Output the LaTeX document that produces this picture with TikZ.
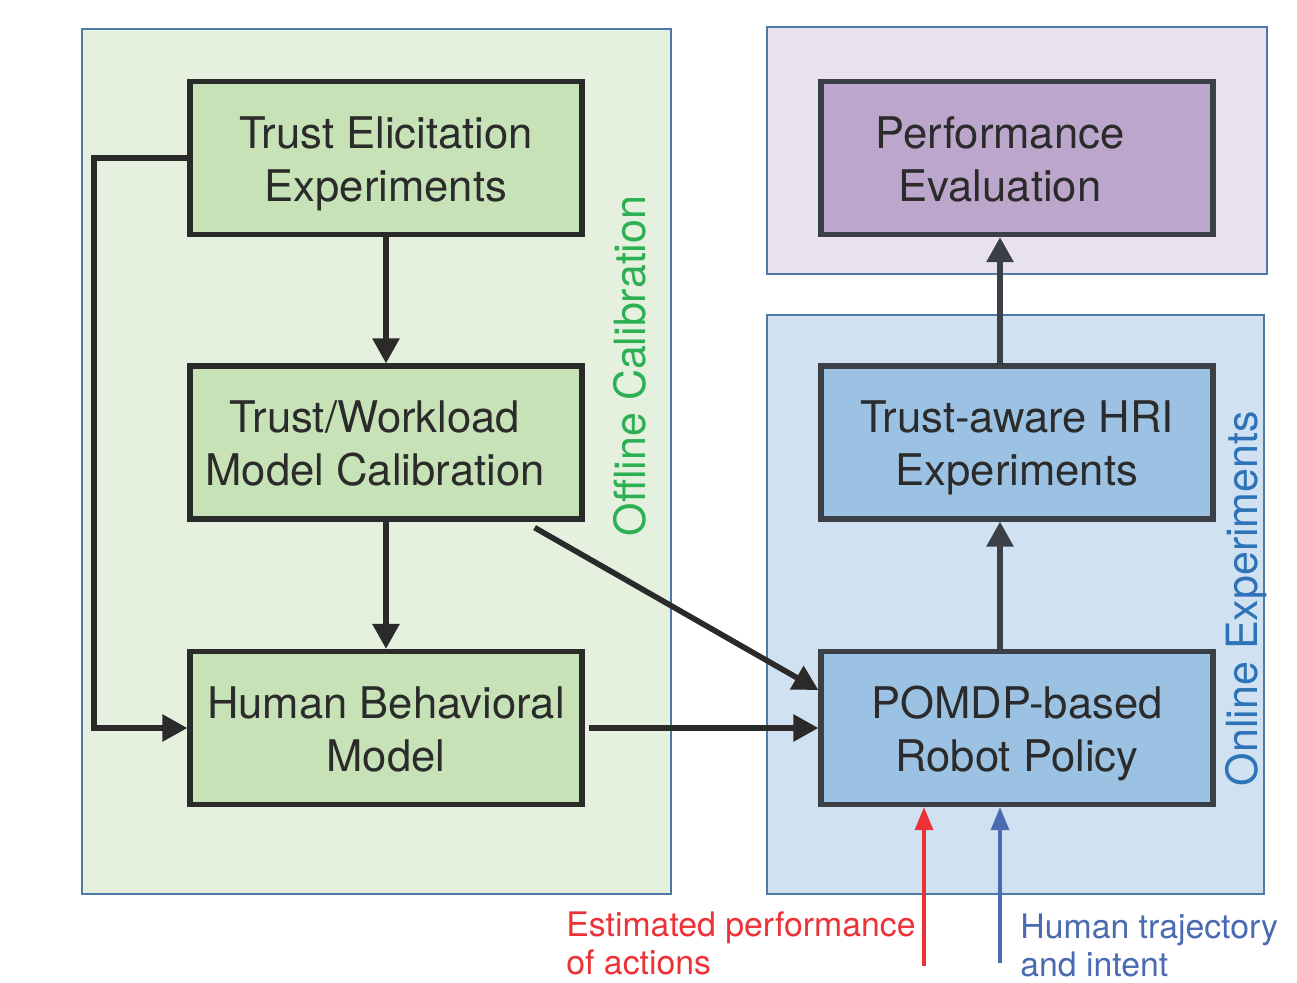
\documentclass[tikz,border=0pt]{standalone}
\usepackage{fontspec}
\setmainfont{TeX Gyre Heros}
\usetikzlibrary{arrows.meta}

\definecolor{offfill}{HTML}{E5F0DE}
\definecolor{evalfill}{HTML}{E8E2EF}
\definecolor{onfill}{HTML}{D0E1F1}
\definecolor{framecol}{HTML}{4E7AA5}
\definecolor{greenbox}{HTML}{C8E2B7}
\definecolor{purplebox}{HTML}{BCA6CC}
\definecolor{bluebox}{HTML}{9CC2E3}
\definecolor{inkdark}{HTML}{2A2A2A}
\definecolor{inkblue}{HTML}{3A4046}
\definecolor{textdark}{HTML}{2B2B2B}
\definecolor{offgreen}{HTML}{2CB053}
\definecolor{onblue}{HTML}{2E73B8}
\definecolor{estred}{HTML}{ED3237}
\definecolor{trajblue}{HTML}{4A6AB2}

% two-line box caption, set a little low, optionally pushed left by half of #1
\newcommand\stagetext[2][0pt]{\raisebox{-3pt}[\height][\depth]{\begin{tabular}{@{}c@{}}#2\end{tabular}}\hspace*{#1}}

\tikzset{
  region/.style={draw=framecol, line width=1pt},
  stagebox/.style={draw=inkdark, line width=2.6pt, minimum width=196pt, minimum height=76.5pt,
    align=center, inner sep=0pt, text=textdark, font=\fontsize{21.8pt}{26.5pt}\selectfont},
  greenstage/.style={stagebox, fill=greenbox},
  purplestage/.style={stagebox, fill=purplebox, draw=inkblue},
  bluestage/.style={stagebox, fill=bluebox, draw=inkblue},
  flow/.style={draw=inkdark, line width=2.8pt, -{Triangle[length=12.5pt,width=13pt]}},
  flowblue/.style={flow, draw=inkblue},
  sidetitle/.style={rotate=90, anchor=base, inner sep=0pt, font=\fontsize{21.5pt}{26.5pt}\selectfont},
  inputlbl/.style={anchor=north west, align=left, inner sep=0pt, font=\fontsize{16.9pt}{19.3pt}\selectfont},
  inputarrow/.style={line width=1.7pt, -{Triangle[length=11.5pt,width=9pt]}}
}

\begin{document}
\begin{tikzpicture}[x=0.5pt,y=-0.5pt]
\useasboundingbox (0,0) rectangle (1297,982);

% background regions
\draw[region, fill=offfill] (82,29) rectangle (671,894);
\draw[region, fill=evalfill] (767,27) rectangle (1267,274);
\draw[region, fill=onfill] (767,315) rectangle (1264,894);

% stages of the offline calibration
\node[greenstage] (tee) at (386,158) {\stagetext{Trust Elicitation\\Experiments}};
\node[greenstage] (twm) at (386,442.5) {\stagetext[11pt]{Trust/Workload\\Model Calibration}};
\node[greenstage] (hbm) at (386,728) {\stagetext{Human Behavioral\\Model}};

% stages of the online experiments
\node[purplestage] (pe) at (1017,158) {\stagetext[17pt]{Performance\\Evaluation}};
\node[bluestage] (thri) at (1017,442.5) {\stagetext{Trust-aware HRI\\Experiments}};
\node[bluestage] (pomdp) at (1017,728) {\stagetext{POMDP-based\\Robot Policy}};

% side titles
\node[sidetitle, text=offgreen] (offtitle) at (645,366) {Offline Calibration};
\node[sidetitle, text=onblue] (ontitle) at (1257,598.5) {Online Experiments};

% connectors
\draw[flow] (tee) -- (twm);
\draw[flow] (twm) -- (hbm);
\coordinate (fbcorner) at (94,158);
\draw[flow] (tee.west) -- (fbcorner) |- (hbm.west);
\draw[flow] ([xshift=-25pt,yshift=-3pt]twm.south east) -- ([yshift=19pt]pomdp.west);
\draw[flow] ([xshift=2pt]hbm.east) -- (pomdp.west);
\draw[flowblue] ([xshift=-8.5pt]pomdp.north) -- ([xshift=-8.5pt]thri.south);
\draw[flowblue] ([xshift=-8.5pt]thri.north) -- ([xshift=-8.5pt]pe.south);

% external inputs
\coordinate (estsrc) at (924,966);
\coordinate (trajsrc) at (1000,963);
\draw[inputarrow, draw=estred] (estsrc) -- (estsrc |- pomdp.south);
\draw[inputarrow, draw=trajblue] (trajsrc) -- (trajsrc |- pomdp.south);
\node[inputlbl, text=estred] (estlbl) at (566,911) {Estimated performance\\of actions};
\node[inputlbl, text=trajblue] (trajlbl) at (1020,913) {Human trajectory\\and intent};
\end{tikzpicture}
\end{document}
